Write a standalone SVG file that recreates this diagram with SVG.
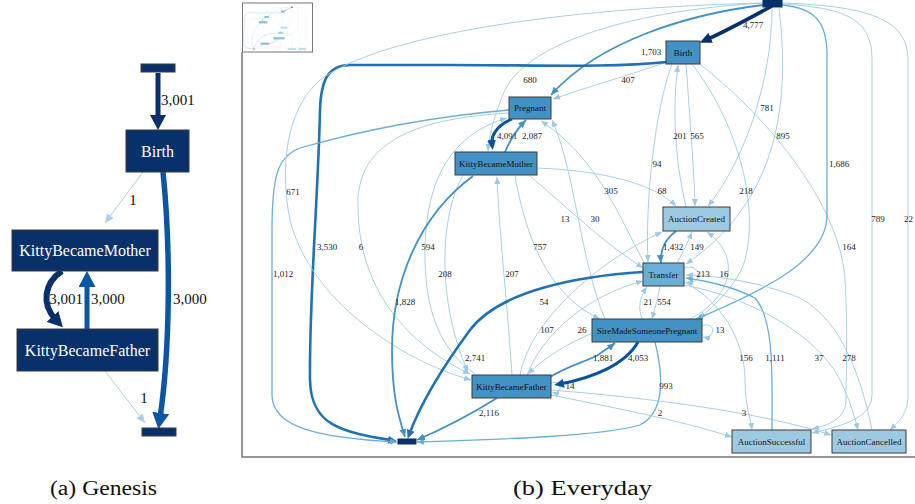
<svg xmlns="http://www.w3.org/2000/svg" xmlns:xlink="http://www.w3.org/1999/xlink" width="915" height="504" viewBox="0 0 915 504" font-family="Liberation Serif, serif">
<style>
.ln{fill:#08306b;stroke:#3a3a3a;stroke-width:1}
.lt{fill:#ffffff;font-size:16px;text-anchor:middle}
.ll{fill:#111;font-size:15px}
.rn1{fill:#4292c6;stroke:#3a3a3a;stroke-width:1}
.rn2{fill:#6baed6;stroke:#3a3a3a;stroke-width:1}
.rn3{fill:#9ecae1;stroke:#3a3a3a;stroke-width:1}
.rnd{fill:#08306b;stroke:#08306b;stroke-width:1}
.rt{fill:#111;font-size:9px;text-anchor:middle}
.rl{fill:#222;font-size:9px;text-anchor:middle}
path{fill:none}
.eL{stroke:#9ecae1;stroke-width:0.9;marker-end:url(#mL)}
.eM{stroke:#6baed6;stroke-width:1.3;marker-end:url(#mM)}
.eB{stroke:#4292c6;stroke-width:1.8;marker-end:url(#mB)}
.eD{stroke:#2171b5;stroke-width:2.6;marker-end:url(#mD)}
.eDD{stroke:#08519c;stroke-width:3;marker-end:url(#mDD)}
.eN{stroke:#08306b;stroke-width:3.6;marker-end:url(#mN)}
.cap{fill:#111;font-size:20px}
</style>
<defs>
<marker id="mL" viewBox="0 0 7 6" refX="7" refY="3" markerWidth="7" markerHeight="6" markerUnits="userSpaceOnUse" orient="auto"><path d="M0,0L7,3L0,6z" style="fill:#9ecae1"/></marker>
<marker id="mM" viewBox="0 0 7 6" refX="7" refY="3" markerWidth="7" markerHeight="6" markerUnits="userSpaceOnUse" orient="auto"><path d="M0,0L7,3L0,6z" style="fill:#6baed6"/></marker>
<marker id="mB" viewBox="0 0 8 7" refX="8" refY="3.5" markerWidth="8" markerHeight="7" markerUnits="userSpaceOnUse" orient="auto"><path d="M0,0L8,3.5L0,7z" style="fill:#4292c6"/></marker>
<marker id="mD" viewBox="0 0 9 8" refX="5" refY="4" markerWidth="9" markerHeight="8" markerUnits="userSpaceOnUse" orient="auto"><path d="M0,0L9,4L0,8z" style="fill:#2171b5"/></marker>
<marker id="mDD" viewBox="0 0 10 9" refX="4" refY="4.5" markerWidth="10" markerHeight="9" markerUnits="userSpaceOnUse" orient="auto"><path d="M0,0L10,4.5L0,9z" style="fill:#08519c"/></marker>
<marker id="mN" viewBox="0 0 12 11" refX="4" refY="5.5" markerWidth="12" markerHeight="11" markerUnits="userSpaceOnUse" orient="auto"><path d="M0,0L12,5.5L0,11z" style="fill:#08306b"/></marker>
<marker id="aN" viewBox="0 0 15 16" refX="5" refY="8" markerWidth="15" markerHeight="16" markerUnits="userSpaceOnUse" orient="auto"><path d="M0,0L15,8L0,16z" style="fill:#08306b"/></marker>
<marker id="aB" viewBox="0 0 16 17" refX="5" refY="8.5" markerWidth="16" markerHeight="17" markerUnits="userSpaceOnUse" orient="auto"><path d="M0,0L16,8.5L0,17z" style="fill:#0b56a4"/></marker>
<marker id="aL" viewBox="0 0 9 8" refX="9" refY="4" markerWidth="9" markerHeight="8" markerUnits="userSpaceOnUse" orient="auto"><path d="M0,0L9,4L0,8z" style="fill:#a9d0e6"/></marker>
<clipPath id="thumbClip"><rect x="243" y="4" width="69" height="47"/></clipPath>
</defs>
<rect width="915" height="504" fill="#ffffff"/>

<!-- ===== Panel (a) Genesis ===== -->
<g id="a-connectors">
<path d="M158,73 L158,120" style="stroke:#08306b;stroke-width:5;marker-end:url(#aN)"/>
<path d="M143,172 L105,223" style="stroke:#a9d0e6;stroke-width:1;marker-end:url(#aL)"/>
<path d="M62,271 C44,283 41,304 56,320" style="stroke:#08306b;stroke-width:6;marker-end:url(#aN)"/>
<path d="M87,329 L87,282" style="stroke:#0b56a4;stroke-width:5;marker-end:url(#aB)"/>
<path d="M163,172 C171,250 170,350 160,418" style="stroke:#0b56a4;stroke-width:5.5;marker-end:url(#aB)"/>
<path d="M105,371 L145,423" style="stroke:#a9d0e6;stroke-width:1;marker-end:url(#aL)"/>
</g>
<g id="a-labels">
<text class="ll" x="161" y="105">3,001</text>
<text class="ll" x="133" y="205" text-anchor="middle">1</text>
<text class="ll" x="66" y="304" text-anchor="middle">3,001</text>
<text class="ll" x="91" y="304">3,000</text>
<text class="ll" x="173" y="304">3,000</text>
<text class="ll" x="144" y="403" text-anchor="middle">1</text>
</g>
<g id="a-start"><rect class="ln" x="141" y="64" width="34" height="8"/></g>
<g id="a-birth"><rect class="ln" x="126" y="130" width="63" height="42"/><text class="lt" x="157.5" y="156.5">Birth</text></g>
<g id="a-mother"><rect class="ln" x="12" y="230" width="146" height="41"/><text class="lt" x="85" y="256">KittyBecameMother</text></g>
<g id="a-father"><rect class="ln" x="17" y="329" width="141" height="42"/><text class="lt" x="87.5" y="355.5">KittyBecameFather</text></g>
<g id="a-end"><rect class="ln" x="142" y="428" width="34" height="8"/></g>

<!-- ===== Panel (b) Everyday ===== -->
<g id="b-frame">
<path d="M242,52 L242,457 L915,457" style="stroke:#777;stroke-width:1.5"/>
</g>

<g id="b-connectors">
<path class="eN" d="M772,6 C750,18 728,30 707,39.5"/>
<path class="eB" d="M763,5 C690,14 600,40 551,95"/>
<path class="eL" d="M667,62 C630,75 590,86 553,99"/>
<path class="eL" d="M763,3 C640,10 530,40 505,90 C496,110 490,130 488,151"/>
<path class="eL" d="M686,64 C690,120 694,170 695,206"/>
<path class="eL" d="M686,207 C675,160 672,110 678,65"/>
<path class="eL" d="M672,64 C655,110 645,200 648,262"/>
<path class="eL" d="M772,8 C772,80 745,160 708,206"/>
<path class="eL" d="M779,8 C790,100 780,200 686,264"/>
<path class="eL" d="M692,64 C735,120 760,200 745,260 C735,290 712,305 700,319"/>
<path class="eL" d="M697,62 C760,110 840,200 845,280 C848,330 846,380 846,400 C846,418 830,425 812,429"/>
<path class="eM" d="M782,5 C815,8 827,22 827,55 L827,215 C827,260 765,290 696,319"/>
<path class="eL" d="M782,4 C845,8 872,18 872,60 L872,395 C872,418 842,426 812,433"/>
<path class="eL" d="M782,3 C875,6 908,22 908,60 L908,395 C908,415 898,422 890,430"/>
<path class="eD" d="M667,62 C610,68 540,65 450,65 L350,65 C328,65 321,80 320,110 C318,200 309,300 310,380 C311,425 340,432 393,440.5"/>
<path class="eM" d="M509,110 C440,116 370,128 300,148 C278,156 272,175 272,230 L272,395 C272,428 320,438 397,442"/>
<path class="eL" d="M509,113 C420,118 360,140 358,200 C356,300 420,350 470,374"/>
<path class="eL" d="M763,3 C560,8 380,35 320,80 C285,110 280,170 290,220 C310,300 400,360 471,380"/>
<path class="eL" d="M475,374 C440,350 424,310 425,250 C426,180 450,135 507,118"/>
<path class="eL" d="M463,175 C440,215 436,300 468,372"/>
<path class="eB" d="M473,176 C420,215 392,280 392,350 C392,400 400,420 405,437"/>
<path class="eL" d="M512,375 C507,300 499,230 497,177"/>
<path class="eL" d="M515,176 C530,260 560,300 600,319"/>
<path class="eL" d="M605,319 C580,260 575,170 552,120"/>
<path class="eL" d="M645,264 C620,220 600,160 541,121"/>
<path class="eL" d="M530,176 C570,210 600,240 643,268"/>
<path class="eL" d="M537,168 C590,170 650,180 676,206"/>
<path class="eL" d="M520,375 C530,320 600,260 662,232"/>
<path class="eL" d="M527,375 C545,330 590,295 643,281"/>
<path class="eL" d="M593,333 C570,342 545,357 528,374"/>
<path class="eD" d="M643,272 C580,276 500,290 470,330 C442,368 421,402 409,435"/>
<path class="eDD" d="M512,119 C496,126 491,136 492,144"/>
<path class="eB" d="M505,152 C510,140 518,128 526,120"/>
<path class="eB" d="M676,231 C664,240 660,250 661,263"/>
<path class="eL" d="M677,263 C683,252 688,242 692,232"/>
<path class="eL" d="M690,319 C735,295 740,255 707,232"/>
<path class="eL" d="M684,268 C702,262 704,286 686,282"/>
<path class="eL" d="M702,326 C716,320 716,340 703,337"/>
<path class="eL" d="M551,383 C563,379 563,396 552,392"/>
<path class="eL" d="M642,319 C637,306 641,295 647,287"/>
<path class="eL" d="M660,286 C658,298 655,308 652,319"/>
<path class="eB" d="M550,377 C570,365 585,362 598,355 C605,350 610,347 615,343"/>
<path class="eDD" d="M638,342 C625,365 592,378 560,384"/>
<path class="eM" d="M655,342 C662,370 668,410 640,425 C600,437 480,440 417,442"/>
<path class="eB" d="M497,398 C470,415 440,430 417,440"/>
<path class="eL" d="M551,395 C600,405 680,420 732,437"/>
<path class="eL" d="M551,390 C650,398 760,412 831,435"/>
<path class="eL" d="M684,282 C720,300 745,340 745,380 C745,405 750,415 752,430"/>
<path class="eM" d="M772,430 C772,380 775,320 755,298 C730,285 700,280 686,278"/>
<path class="eL" d="M684,285 C760,300 820,340 840,380 C850,400 855,418 858,430"/>
<path class="eL" d="M872,430 C862,380 842,320 800,298 C760,282 720,276 686,275"/>
</g>

<g id="b-labels">
<text class="rl" x="753" y="28">4,777</text>
<text class="rl" x="651" y="55">1,703</text>
<text class="rl" x="628" y="83">407</text>
<text class="rl" x="530" y="83">680</text>
<text class="rl" x="507" y="139">4,091</text>
<text class="rl" x="532" y="139">2,087</text>
<text class="rl" x="767" y="111">781</text>
<text class="rl" x="680" y="139">201</text>
<text class="rl" x="697" y="139">565</text>
<text class="rl" x="783" y="139">895</text>
<text class="rl" x="657" y="167">94</text>
<text class="rl" x="839" y="167">1,686</text>
<text class="rl" x="293" y="195">671</text>
<text class="rl" x="611" y="194">305</text>
<text class="rl" x="662" y="194">68</text>
<text class="rl" x="746" y="194">218</text>
<text class="rl" x="565" y="222">13</text>
<text class="rl" x="595" y="222">30</text>
<text class="rl" x="878" y="222">789</text>
<text class="rl" x="904" y="222" style="text-anchor:start">22</text>
<text class="rl" x="327" y="250">3,530</text>
<text class="rl" x="361" y="250">6</text>
<text class="rl" x="428" y="250">594</text>
<text class="rl" x="540" y="250">757</text>
<text class="rl" x="673" y="250">1,432</text>
<text class="rl" x="697" y="250">149</text>
<text class="rl" x="849" y="250">164</text>
<text class="rl" x="283" y="277">1,012</text>
<text class="rl" x="445" y="277">208</text>
<text class="rl" x="512" y="277">207</text>
<text class="rl" x="703" y="277">213</text>
<text class="rl" x="724" y="277">16</text>
<text class="rl" x="405" y="305">1,828</text>
<text class="rl" x="544" y="305">54</text>
<text class="rl" x="648" y="305">21</text>
<text class="rl" x="664" y="305">554</text>
<text class="rl" x="547" y="333">107</text>
<text class="rl" x="582" y="333">26</text>
<text class="rl" x="720" y="333">13</text>
<text class="rl" x="475" y="361">2,741</text>
<text class="rl" x="603" y="361">1,881</text>
<text class="rl" x="638" y="361">4,053</text>
<text class="rl" x="746" y="361">156</text>
<text class="rl" x="775" y="361">1,111</text>
<text class="rl" x="819" y="361">37</text>
<text class="rl" x="849" y="361">278</text>
<text class="rl" x="570" y="389">14</text>
<text class="rl" x="666" y="389">993</text>
<text class="rl" x="489" y="416">2,116</text>
<text class="rl" x="660" y="416">2</text>
<text class="rl" x="744" y="416">3</text>
</g>

<g id="b-start"><rect class="rnd" x="763" y="0" width="19" height="7"/></g>
<g id="b-birth"><rect class="rn1" x="666" y="41" width="34" height="23"/><text class="rt" x="683" y="55.5">Birth</text></g>
<g id="b-pregnant"><rect class="rn1" x="509" y="97" width="42" height="22"/><text class="rt" x="530" y="111">Pregnant</text></g>
<g id="b-mother"><rect class="rn1" x="455" y="152" width="82" height="23"/><text class="rt" x="496" y="166.5">KittyBecameMother</text></g>
<g id="b-auctioncreated"><rect class="rn3" x="663" y="207" width="67" height="24"/><text class="rt" x="696.5" y="222">AuctionCreated</text></g>
<g id="b-transfer"><rect class="rn2" x="643" y="263" width="41" height="23"/><text class="rt" x="663.5" y="277.5">Transfer</text></g>
<g id="b-sire"><rect class="rn1" x="592" y="319" width="110" height="23"/><text class="rt" x="647" y="333.5">SireMadeSomeonePregnant</text></g>
<g id="b-father"><rect class="rn1" x="472" y="375" width="79" height="23"/><text class="rt" x="511.5" y="389.5">KittyBecameFather</text></g>
<g id="b-end"><rect class="rnd" x="398" y="439" width="18" height="5"/></g>
<g id="b-auctionsuccessful"><rect class="rn3" x="732" y="430" width="79" height="23"/><text class="rt" x="771.5" y="444.5">AuctionSuccessful</text></g>
<g id="b-auctioncancelled"><rect class="rn3" x="832" y="430" width="74" height="23"/><text class="rt" x="869" y="444.5">AuctionCancelled</text></g>

<g id="b-thumbnail">
<rect x="242.5" y="3" width="70" height="49" style="fill:#fff;stroke:#777;stroke-width:1"/>
<g clip-path="url(#thumbClip)" opacity="0.6">
<use xlink:href="#b-connectors" href="#b-connectors" transform="translate(211,6.6) scale(0.105,0.096)"/>
<rect x="291" y="6.6" width="2" height="1.2" fill="#08306b"/>
<rect x="281" y="10.5" width="3.6" height="2.2" fill="#4292c6"/>
<rect x="264.4" y="15.9" width="4.4" height="2.1" fill="#4292c6"/>
<rect x="258.8" y="21.2" width="8.6" height="2.2" fill="#4292c6"/>
<rect x="280.6" y="26.5" width="7" height="2.3" fill="#9ecae1"/>
<rect x="278.5" y="31.8" width="4.3" height="2.2" fill="#6baed6"/>
<rect x="273.2" y="37.2" width="11.6" height="2.2" fill="#4292c6"/>
<rect x="260.6" y="42.6" width="8.3" height="2.2" fill="#4292c6"/>
<rect x="252.8" y="48.7" width="2" height="0.8" fill="#08306b"/>
<rect x="287.9" y="47.9" width="8.3" height="2.2" fill="#9ecae1"/>
<rect x="298.4" y="47.9" width="7.8" height="2.2" fill="#9ecae1"/>
</g>
</g>

<g id="captions">
<text class="cap" x="50" y="495" textLength="107" lengthAdjust="spacingAndGlyphs">(a) Genesis</text>
<text class="cap" x="513" y="495" textLength="139" lengthAdjust="spacingAndGlyphs">(b) Everyday</text>
</g>
</svg>
